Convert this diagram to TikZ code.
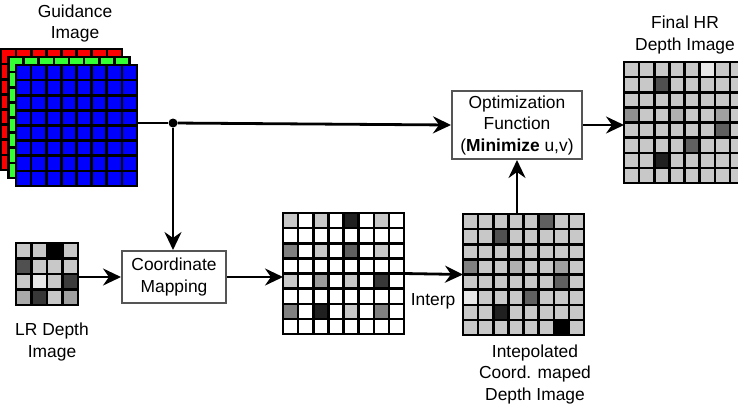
\documentclass[tikz,border=0pt]{standalone}
\usepackage{fontspec}
\setmainfont{Liberation Sans}
\usetikzlibrary{arrows.meta}
\definecolor{lg}{HTML}{C8C8C8}
\definecolor{boxgray}{HTML}{555555}
\definecolor{rgbred}{HTML}{FF0000}
\definecolor{rgbgreen}{HTML}{33FF33}
\definecolor{rgbblue}{HTML}{0000FF}
\newcommand\mycells[4]{% x0, y0, s, list c/r/v
  \foreach \c/\r/\v in {#4}
    \fill[fill={rgb,255:red,\v;green,\v;blue,\v}] ({#1+(\c-1)*#3},{#2+(\r-1)*#3}) rectangle ++(#3,#3);}
\newcommand\mylines[5]{% x0, y0, n, s, lw
  \foreach \i in {0,...,#3}{
    \draw[line width=#5, line cap=rect] ({#1+\i*#4},#2) -- ++(0,{#3*#4});
    \draw[line width=#5, line cap=rect] (#1,{#2+\i*#4}) -- ++({#3*#4},0);}}
\tikzset{
  lbl/.style={font=\fontsize{17.4}{21.5}\selectfont, align=center, inner sep=0pt},
  procbox/.style={draw=boxgray, line width=2pt, fill=white, font=\fontsize{17.4}{21.5}\selectfont, align=center, inner sep=0pt},
  frame/.style={anchor=north west, inner sep=0pt, outer sep=0pt},
  arr/.style={line width=2.8pt, -{Stealth[length=18pt,width=17pt,inset=6pt]}},
  plain/.style={line width=2.8pt},
}
\begin{document}
\begin{tikzpicture}[x=1pt,y=-1pt]
\clip (0,0) rectangle (738,405);
\fill[white] (0,0) rectangle (738,405);

% Guidance image (three layers)
\node[frame, minimum size=121pt, fill=rgbred] (gred) at (1,49) {};
\mylines{1}{49}{8}{15.125}{2.6pt}
\node[frame, minimum size=121pt, fill=rgbgreen] (ggreen) at (8.5,57) {};
\mylines{8.5}{57}{8}{15.125}{2.6pt}
\node[frame, minimum size=121pt, fill=rgbblue] (guid) at (16,65) {};
\mylines{16}{65}{8}{15.125}{2.6pt}
\node[lbl, anchor=base] (tguid) at (75,38.5) {Guidance\\Image};

% LR depth image
\node[frame, minimum size=62pt, fill=lg] (lr) at (16,243) {};
\mycells{16}{243}{15.5}{3/1/0, 1/2/80, 2/3/232, 4/3/60, 1/4/170, 2/4/55, 4/4/160}
\mylines{16}{243}{4}{15.5}{2.5pt}
\node[lbl, anchor=base] (tlr) at (52,357) {LR Depth\\Image};

% Sparse coordinate-mapped grid
\node[frame, minimum size=121pt, fill=white] (sparse) at (283,213) {};
\mycells{283}{213}{15.125}{1/1/200, 3/1/200, 5/1/32, 7/1/200, 1/3/128, 3/3/200, 5/3/96, 7/3/200, 1/5/200, 3/5/155, 5/5/200, 7/5/56, 1/7/128, 3/7/32, 5/7/200, 7/7/128}
\mylines{283}{213}{8}{15.125}{2.5pt}

% Interpolated grid
\node[frame, minimum size=121pt, fill=lg] (interp) at (463,214) {};
\mycells{463}{214}{15.125}{6/1/96, 3/2/80, 1/4/128, 4/4/176, 7/4/160, 7/5/96, 1/6/232, 5/6/96, 3/7/32, 7/8/0}
\mylines{463}{214}{8}{15.125}{2.5pt}
\node[lbl, anchor=base] (tinterp) at (535,400) {Intepolated\\Coord. maped\\Depth Image};

% Final HR grid
\node[frame, minimum size=121pt, fill=lg] (final) at (624,62) {};
\mycells{624}{62}{15.125}{6/1/232, 3/2/80, 1/4/144, 4/4/176, 7/4/160, 7/5/96, 5/6/96, 3/7/32}
\mylines{624}{62}{8}{15.125}{2.5pt}
\node[lbl, anchor=base] (tfinal) at (685,50) {Final HR\\Depth Image};

% Process boxes
\node[procbox, minimum width=104pt, minimum height=52pt] (cm) at (174,277) {Coordinate\\Mapping};
\node[procbox, minimum width=130pt, minimum height=68pt] (opt) at (517,125) {Optimization\\Function\\(\textbf{Minimize} u,v)};

% Junction
\node[circle, fill=black, minimum size=9pt, inner sep=0pt] (j) at (173,123) {};

% Connectors
\draw[plain] (guid.east |- j) -- (j);
\draw[arr] (j) -- (opt.west);
\draw[arr] (j) -- (j |- cm.north);
\draw[arr] (lr.east |- cm.west) -- (cm.west);
\draw[arr] (cm.east) -- (cm.east -| sparse.west);
\draw[arr] (sparse.east) -- (interp.west);
\node[lbl, anchor=base] (tint) at (433,305) {Interp};
\draw[arr] (opt.south |- interp.north) -- (opt.south);
\draw[arr] (opt.east) -- (opt.east -| final.west);
\end{tikzpicture}
\end{document}
